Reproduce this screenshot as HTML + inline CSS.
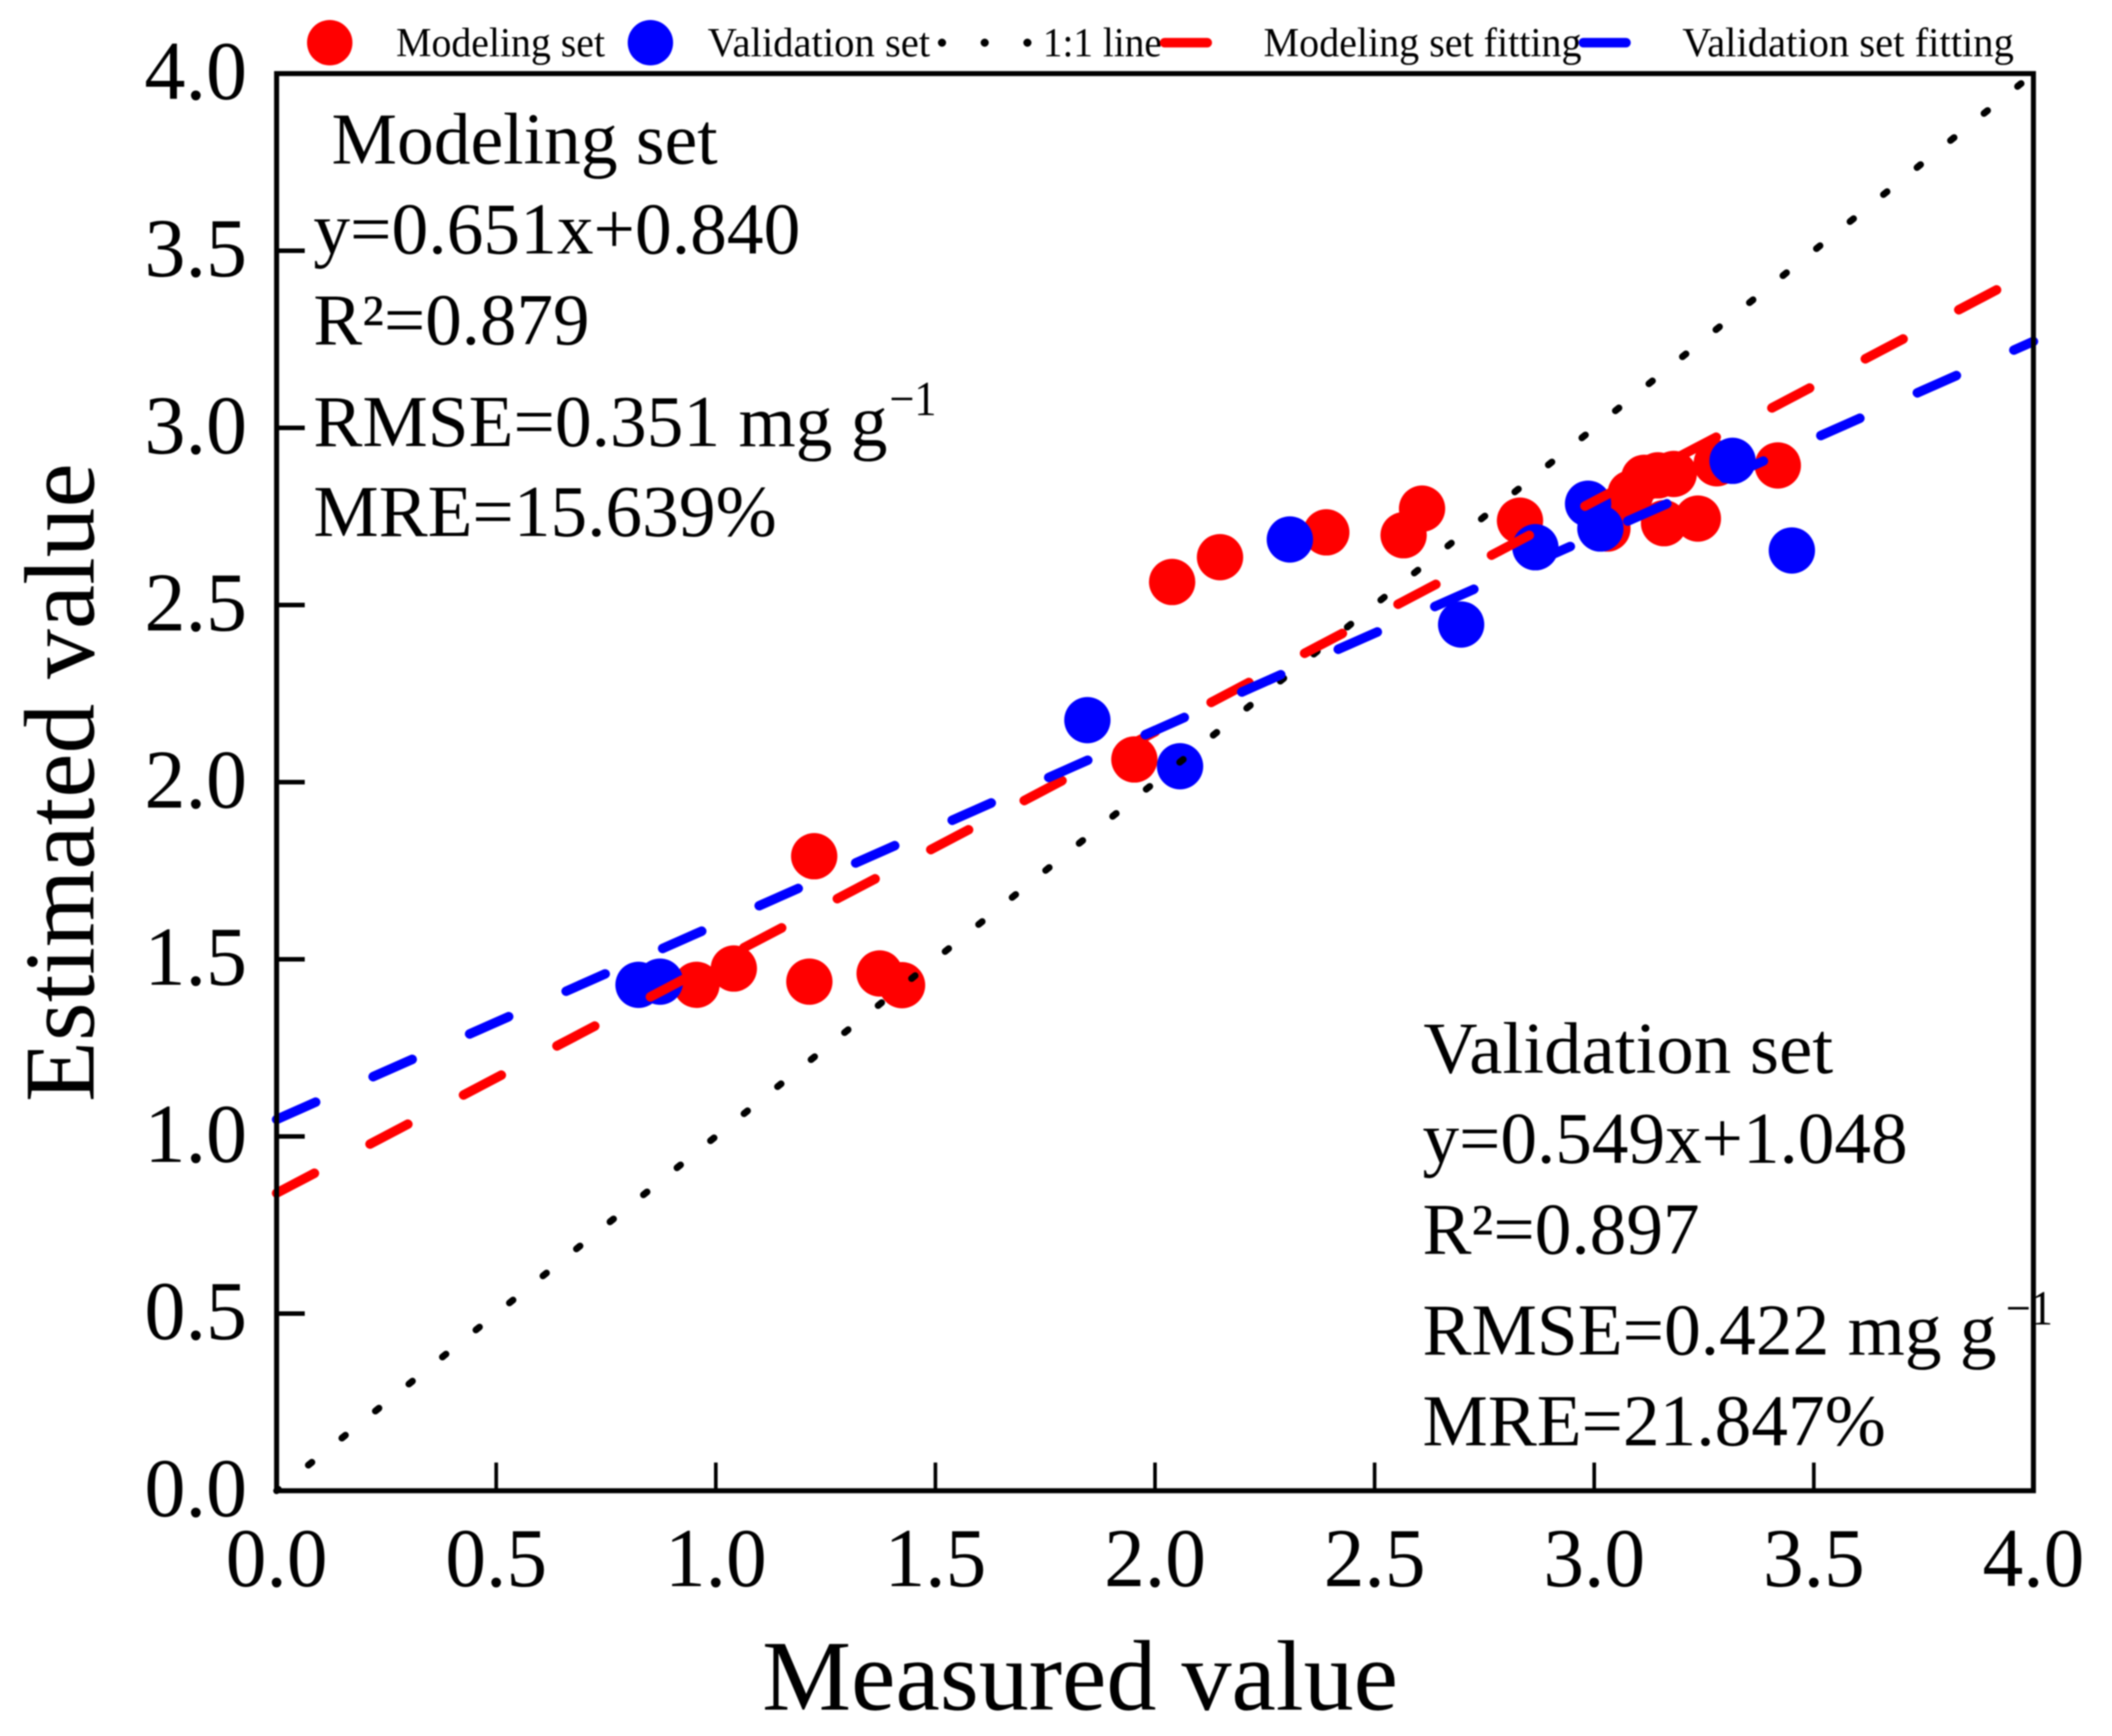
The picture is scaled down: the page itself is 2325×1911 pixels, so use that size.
<!DOCTYPE html>
<html lang="en">
<head>
<meta charset="utf-8">
<title>Measured vs Estimated value</title>
<style>
html,body{margin:0;padding:0;background:#fff;width:2325px;height:1911px;overflow:hidden}
svg{display:block;filter:blur(0.8px)}
text{font-family:"Liberation Serif",serif;fill:#000}
</style>
</head>
<body>
<svg id="chart" xmlns="http://www.w3.org/2000/svg" width="2325" height="1911" viewBox="0 0 2325 1911">
  <rect x="0" y="0" width="2325" height="1911" fill="#fff"/>
  <g id="marks"></g>
  <g id="axes"></g>

  <g>
    <circle cx="363" cy="47" r="25" fill="#ff0000"/>
    <text x="436" y="62" font-size="45" textLength="230" lengthAdjust="spacingAndGlyphs">Modeling set</text>
    <circle cx="716" cy="47" r="25" fill="#0000ff"/>
    <text x="779" y="62" font-size="45" textLength="245" lengthAdjust="spacingAndGlyphs">Validation set</text>
    <line x1="1037" y1="47" x2="1133" y2="47" stroke="#000" stroke-width="9" stroke-linecap="round" stroke-dasharray="0.01 47"/>
    <text x="1148" y="62" font-size="45" textLength="131" lengthAdjust="spacingAndGlyphs">1:1 line</text>
    <line x1="1282" y1="47" x2="1329" y2="47" stroke="#ff0000" stroke-width="10.5" stroke-linecap="round"/>
    <text x="1391" y="62" font-size="45" textLength="350" lengthAdjust="spacingAndGlyphs">Modeling set fitting</text>
    <line x1="1743" y1="47" x2="1790" y2="47" stroke="#0000ff" stroke-width="10.5" stroke-linecap="round"/>
    <text x="1852" y="62" font-size="45" textLength="365" lengthAdjust="spacingAndGlyphs">Validation set fitting</text>
  </g>

  <g>
    <text x="365" y="180" font-size="80" textLength="425" lengthAdjust="spacingAndGlyphs">Modeling set</text>
    <text x="345" y="279" font-size="80" textLength="536" lengthAdjust="spacingAndGlyphs">y=0.651x+0.840</text>
    <text x="345" y="379" font-size="80" textLength="304" lengthAdjust="spacingAndGlyphs">R²=0.879</text>
    <text x="345" y="491" font-size="80" textLength="632" lengthAdjust="spacingAndGlyphs">RMSE=0.351 mg g</text>
    <text x="979" y="457" font-size="54" textLength="52" lengthAdjust="spacingAndGlyphs">−1</text>
    <text x="345" y="590" font-size="80" textLength="510" lengthAdjust="spacingAndGlyphs">MRE=15.639%</text>
  </g>

  <g>
    <text x="1567" y="1181" font-size="80" textLength="451" lengthAdjust="spacingAndGlyphs">Validation set</text>
    <text x="1566" y="1280" font-size="80" textLength="534" lengthAdjust="spacingAndGlyphs">y=0.549x+1.048</text>
    <text x="1566" y="1380" font-size="80" textLength="305" lengthAdjust="spacingAndGlyphs">R²=0.897</text>
    <text x="1566" y="1491" font-size="80" textLength="632" lengthAdjust="spacingAndGlyphs">RMSE=0.422 mg g</text>
    <text x="2208" y="1458" font-size="54" textLength="52" lengthAdjust="spacingAndGlyphs">−1</text>
    <text x="1566" y="1591" font-size="80" textLength="510" lengthAdjust="spacingAndGlyphs">MRE=21.847%</text>
  </g>

  <text x="839" y="1882" font-size="110" textLength="700" lengthAdjust="spacingAndGlyphs">Measured value</text>
  <text transform="translate(103 1213) rotate(-90)" x="0" y="0" font-size="110" textLength="703" lengthAdjust="spacingAndGlyphs">Estimated value</text>
</svg>

<script>
var xTickLabels = ["0.0", "0.5", "1.0", "1.5", "2.0", "2.5", "3.0", "3.5", "4.0"];
var yTickLabels = ["0.0", "0.5", "1.0", "1.5", "2.0", "2.5", "3.0", "3.5", "4.0"];
var axisDomain = [0, 4];

var modelingX = [0.956, 1.041, 1.213, 1.373, 1.424, 1.224, 1.953, 2.039, 2.148, 2.390, 2.566, 2.608, 2.831, 3.030, 3.083, 3.114, 3.145, 3.181, 3.159, 3.236, 3.279, 3.418];
var modelingY = [1.428, 1.474, 1.437, 1.460, 1.427, 1.791, 2.064, 2.565, 2.635, 2.705, 2.697, 2.772, 2.738, 2.716, 2.815, 2.859, 2.866, 2.870, 2.731, 2.744, 2.900, 2.894];

var validationX = [0.824, 0.873, 1.846, 2.057, 2.307, 2.697, 2.866, 2.986, 3.014, 3.315, 3.450];
var validationY = [1.428, 1.437, 2.175, 2.045, 2.685, 2.445, 2.663, 2.786, 2.716, 2.907, 2.654];

var modelingFit = [0.651, 0.840];
var validationFit = [0.549, 1.048];
var oneToOneFit = [1, 0];

var NS = "http://www.w3.org/2000/svg";
var plotLeft = 304.5, plotRight = 2238.5, plotTop = 81, plotBottom = 1641;

function xScale(v) {
  return plotLeft + (v - axisDomain[0]) / (axisDomain[1] - axisDomain[0]) * (plotRight - plotLeft);
}
function yScale(v) {
  return plotBottom - (v - axisDomain[0]) / (axisDomain[1] - axisDomain[0]) * (plotBottom - plotTop);
}
function make(tag, attrs, parent) {
  var el = document.createElementNS(NS, tag);
  for (var k in attrs) { el.setAttribute(k, attrs[k]); }
  parent.appendChild(el);
  return el;
}

var marks = document.getElementById("marks");
var axes = document.getElementById("axes");

function drawPoints(xs, ys, color, name) {
  for (var i = 0; i < xs.length; i++) {
    var c = make("circle", { cx: xScale(xs[i]), cy: yScale(ys[i]), r: 25.5, fill: color }, marks);
    
    
  }
}
function drawFit(fit, color, width, dash, offset, name) {
  var x0 = axisDomain[0], x1 = axisDomain[1];
  var l = make("line", {
    x1: xScale(x0), y1: yScale(fit[0] * x0 + fit[1]),
    x2: xScale(x1), y2: yScale(fit[0] * x1 + fit[1]),
    stroke: color, "stroke-width": width, "stroke-linecap": "round",
    "stroke-dasharray": dash, "stroke-dashoffset": offset
  }, marks);
  
  
}

drawPoints(modelingX, modelingY, "#ff0000", "modeling-point");
drawPoints(validationX, validationY, "#0000ff", "validation-point");
drawFit(oneToOneFit, "#000000", 7.5, "5 42.4", 2.5, "one-to-one-line");
drawFit(modelingFit, "#ff0000", 10.5, "47 69.2", 0, "modeling-fit-line");
drawFit(validationFit, "#0000ff", 10.5, "47 69.2", 0, "validation-fit-line");

var frame = make("rect", {
  x: plotLeft, y: plotTop, width: plotRight - plotLeft, height: plotBottom - plotTop,
  fill: "none", stroke: "#000", "stroke-width": 5.5
}, axes);



for (var i = 0; i < xTickLabels.length; i++) {
  var xv = parseFloat(xTickLabels[i]);
  if (xv > axisDomain[0] && xv < axisDomain[1]) {
    var xt = make("line", { x1: xScale(xv), x2: xScale(xv), y1: plotBottom, y2: plotBottom - 31, stroke: "#000", "stroke-width": 4 }, axes);
    
    
  }
  var xl = make("text", { x: xScale(xv), y: 1746, "font-size": 92, "text-anchor": "middle", textLength: 112, lengthAdjust: "spacingAndGlyphs" }, axes);
  xl.textContent = xTickLabels[i];
  
  
}
for (var j = 0; j < yTickLabels.length; j++) {
  var yv = parseFloat(yTickLabels[j]);
  if (yv < axisDomain[1]) {
    var yt = make("line", { x1: plotLeft, x2: plotLeft + 31, y1: yScale(yv), y2: yScale(yv), stroke: "#000", "stroke-width": 5 }, axes);
    
    
  }
  var yl = make("text", { x: 272, y: yScale(yv) + 28, "font-size": 92, "text-anchor": "end", textLength: 113, lengthAdjust: "spacingAndGlyphs" }, axes);
  yl.textContent = yTickLabels[j];
  
  
}
</script>
</body>
</html>
